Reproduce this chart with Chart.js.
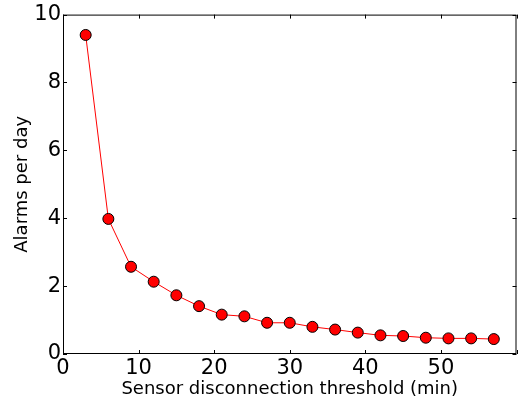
<!DOCTYPE html>
<html>
<head>
<meta charset="utf-8">
<script src="https://cdn.jsdelivr.net/npm/chart.js@4/dist/chart.umd.min.js"></script>
<style>
	html, body { margin: 0; padding: 0; background: #fff; }
	#wrap { width: 523px; height: 400px; }
</style>
</head>
<body>
<div id="wrap"><canvas id="chart" width="523" height="400"></canvas></div>
<script>
// Data.
const thresholds = [ 3, 6, 9, 12, 15, 18, 21, 24, 27, 30, 33, 36, 39, 42, 45, 48, 51, 54, 57 ];
const alarmsPerDay = [ 9.40, 3.98, 2.57, 2.13, 1.73, 1.41, 1.16, 1.11, 0.92, 0.92, 0.80, 0.72, 0.63, 0.55, 0.53, 0.48, 0.46, 0.46, 0.44 ];
const xTicks = [ 0, 10, 20, 30, 40, 50, 60 ];
const yTicks = [ 0, 2, 4, 6, 8, 10 ];

const FONT = 'DejaVu Sans';

// Matplotlib style: ticks drawn inward on all four sides.
const innerTicks = {
	id: 'innerTicks',
	afterDatasetsDraw( chart ) {
		const { ctx, chartArea: a, scales } = chart;
		const len = 4;
		ctx.save();
		ctx.strokeStyle = '#000';
		ctx.lineWidth = 1;
		ctx.beginPath();
		xTicks.forEach( ( v ) => {
			const px = Math.round( scales.x.getPixelForValue( v ) ) + 0.5;
			ctx.moveTo( px, a.bottom );
			ctx.lineTo( px, a.bottom - len );
			ctx.moveTo( px, a.top );
			ctx.lineTo( px, a.top + len );
		} );
		yTicks.forEach( ( v ) => {
			const py = Math.round( scales.y.getPixelForValue( v ) ) + 0.5;
			ctx.moveTo( a.left, py );
			ctx.lineTo( a.left + len, py );
			ctx.moveTo( a.right, py );
			ctx.lineTo( a.right - len, py );
		} );
		ctx.stroke();
		ctx.strokeRect( a.left + 0.5, a.top + 0.5, a.right - a.left - 1, a.bottom - a.top - 1 );
		ctx.restore();
	}
};

new Chart( document.getElementById( 'chart' ), {
	type: 'line',
	data: {
		datasets: [
			{
				data: thresholds.map( ( x, i ) => ( { x, y: alarmsPerDay[ i ] } ) ),
				borderColor: '#ff0000',
				borderWidth: 1,
				backgroundColor: '#ff0000',
				pointBackgroundColor: '#ff0000',
				pointBorderColor: '#000',
				pointBorderWidth: 1,
				pointRadius: 5.5,
				tension: 0,
				clip: false
			}
		]
	},
	options: {
		responsive: false,
		animation: false,
		events: [],
		layout: { padding: { left: 0, top: 12, right: 5, bottom: 0 } },
		plugins: { legend: { display: false }, tooltip: { enabled: false } },
		scales: {
			x: {
				type: 'linear',
				min: 0,
				max: 60,
				afterFit( scale ) { scale.height = 46; },
				afterBuildTicks( scale ) {
					scale.ticks = xTicks.map( ( v ) => ( { value: v } ) );
				},
				grid: { display: false, drawTicks: false },
				border: { display: false },
				ticks: {
					padding: 2,
					color: '#000',
					font: { family: FONT, size: 21 },
					maxRotation: 0,
					callback: ( v ) => ( v === 60 ? '' : String( v ) )
				},
				title: {
					display: true,
					text: 'Sensor disconnection threshold (min)',
					color: '#000',
					font: { family: FONT, size: 18 },
					padding: { top: -6, bottom: 0 }
				}
			},
			y: {
				type: 'linear',
				min: 0,
				max: 10,
				afterFit( scale ) { scale.width = 63; },
				afterBuildTicks( scale ) {
					scale.ticks = yTicks.map( ( v ) => ( { value: v } ) );
				},
				grid: { display: false, drawTicks: false },
				border: { display: false },
				ticks: {
					padding: 2,
					color: '#000',
					font: { family: FONT, size: 21 },
					callback: ( v ) => String( v )
				},
				title: {
					display: true,
					text: 'Alarms per day',
					color: '#000',
					font: { family: FONT, size: 18 },
					padding: { top: 12, bottom: 0 }
				}
			}
		}
	},
	plugins: [ innerTicks ]
} );
</script>
</body>
</html>
